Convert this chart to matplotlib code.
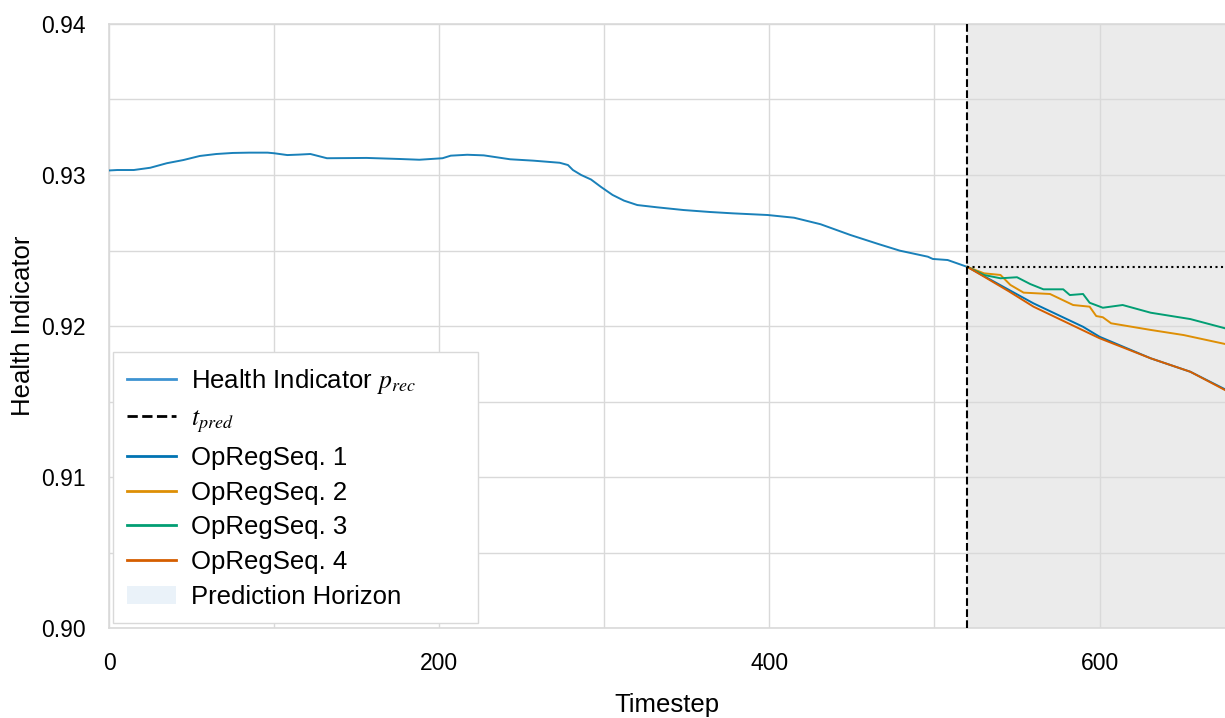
import matplotlib.pyplot as plt
import matplotlib.patches as patches
from matplotlib.lines import Line2D
from matplotlib.ticker import MultipleLocator

plt.rcParams['font.family'] = ['Liberation Sans', 'DejaVu Sans']
plt.rcParams['mathtext.fontset'] = 'stix'

# Health indicator up to the prediction time
hi_t = [0, 5, 15, 25, 35, 45, 55, 65, 75, 85, 96, 100, 108, 115, 122, 132, 145, 156,
        176, 188, 202, 207, 217, 227, 243, 257, 273, 278, 281, 286, 292, 298, 305, 312,
        320, 332, 348, 364, 378, 399, 415, 431, 449, 466, 479, 496, 499, 508, 520]
hi_v = [0.93030, 0.93033, 0.93033, 0.93048, 0.93078, 0.93099, 0.93126, 0.93139, 0.93146,
        0.93148, 0.93148, 0.93144, 0.93132, 0.93135, 0.93139, 0.93111, 0.93112, 0.93113,
        0.93106, 0.93101, 0.93111, 0.93128, 0.93134, 0.93130, 0.93104, 0.93095, 0.93081,
        0.93066, 0.93033, 0.93000, 0.92970, 0.92921, 0.92868, 0.92830, 0.92801, 0.92786,
        0.92768, 0.92755, 0.92746, 0.92735, 0.92717, 0.92674, 0.92603, 0.92543, 0.92499,
        0.92459, 0.92444, 0.92437, 0.92391]

t_pred = 520
x_max = 676

# Predictions per operating regime sequence
seq1_t = [520, 540, 560, 590, 600, 631, 655, 676]
seq1_v = [0.92391, 0.92270, 0.92150, 0.91995, 0.91929, 0.91786, 0.91697, 0.91581]
seq2_t = [520, 530, 540, 546, 554, 570, 584, 594, 598, 602, 607, 631, 651, 676]
seq2_v = [0.92391, 0.92349, 0.92338, 0.92272, 0.92221, 0.92212, 0.92139, 0.92128,
          0.92066, 0.92058, 0.92018, 0.91974, 0.91940, 0.91881]
seq3_t = [520, 530, 540, 550, 558, 566, 578, 582, 590, 594, 602, 614, 631, 655, 676]
seq3_v = [0.92391, 0.92338, 0.92316, 0.92323, 0.92278, 0.92243, 0.92243, 0.92205,
          0.92212, 0.92154, 0.92121, 0.92139, 0.92088, 0.92046, 0.91985]
seq4_t = [520, 530, 545, 560, 600, 631, 655, 676]
seq4_v = [0.92391, 0.92327, 0.92230, 0.92128, 0.91919, 0.91786, 0.91697, 0.91576]

seq_colors = ['#0173b2', '#de8f05', '#029e73', '#d55e00']

fig = plt.figure(figsize=(12.25, 7.18), dpi=100)
ax = fig.add_axes([0.089, 0.1253, 0.911, 0.8413])

ax.axvspan(t_pred, x_max, color='#ebebeb', zorder=0)
ax.plot(hi_t, hi_v, color='#0173b2', lw=1.4, alpha=0.9, zorder=3)
ax.axvline(t_pred, color='black', ls='--', lw=1.5, zorder=4)
ax.plot([t_pred, x_max], [hi_v[-1], hi_v[-1]], color='black', ls=':', lw=1.5, zorder=4)

for t, v, c in zip([seq1_t, seq2_t, seq3_t, seq4_t], [seq1_v, seq2_v, seq3_v, seq4_v], seq_colors):
    ax.plot(t, v, color=c, lw=1.4, zorder=3)

ax.set_xlim(0, x_max)
ax.set_ylim(0.90, 0.94)
ax.xaxis.set_major_locator(MultipleLocator(200))
ax.xaxis.set_minor_locator(MultipleLocator(100))
ax.yaxis.set_minor_locator(MultipleLocator(0.005))
ax.set_yticks([0.90, 0.91, 0.92, 0.93, 0.94])
ax.set_yticklabels(['0.90', '0.91', '0.92', '0.93', '0.94'])
ax.grid(True, which='both', color='#d9d9d9', lw=1, zorder=1)
ax.set_axisbelow(True)
ax.tick_params(which='both', length=0, labelsize=16.5)
ax.tick_params(axis='x', pad=17)
ax.tick_params(axis='y', pad=17)

for side in ['left', 'top', 'bottom']:
    ax.spines[side].set_color('#d9d9d9')
    ax.spines[side].set_linewidth(1.2)
ax.spines['right'].set_visible(False)

ax.set_xlabel('Timestep', fontsize=18.5, labelpad=13)
ax.set_ylabel('Health Indicator', fontsize=18.5, labelpad=4)

handles = [
    Line2D([], [], color='#3d93d1', lw=2),
    Line2D([], [], color='black', ls='--', lw=2),
] + [Line2D([], [], color=c, lw=2) for c in seq_colors] + [
    patches.Patch(facecolor='#eaf2f9', edgecolor='none'),
]
labels = [r'Health Indicator $p_{rec}$', r'$t_{pred}$', 'OpRegSeq. 1', 'OpRegSeq. 2',
          'OpRegSeq. 3', 'OpRegSeq. 4', 'Prediction Horizon']
leg = ax.legend(handles, labels, loc='lower left', fontsize=18.5, fancybox=False,
                framealpha=1, edgecolor='#d9d9d9', borderaxespad=0,
                bbox_to_anchor=(0.0036, 0.0083, 0.327, 0.4), mode='expand',
                handlelength=1.9, handletextpad=0.6, labelspacing=0.42, borderpad=0.55)
leg.set_zorder(5)

fig.savefig('out.png', dpi=100)
